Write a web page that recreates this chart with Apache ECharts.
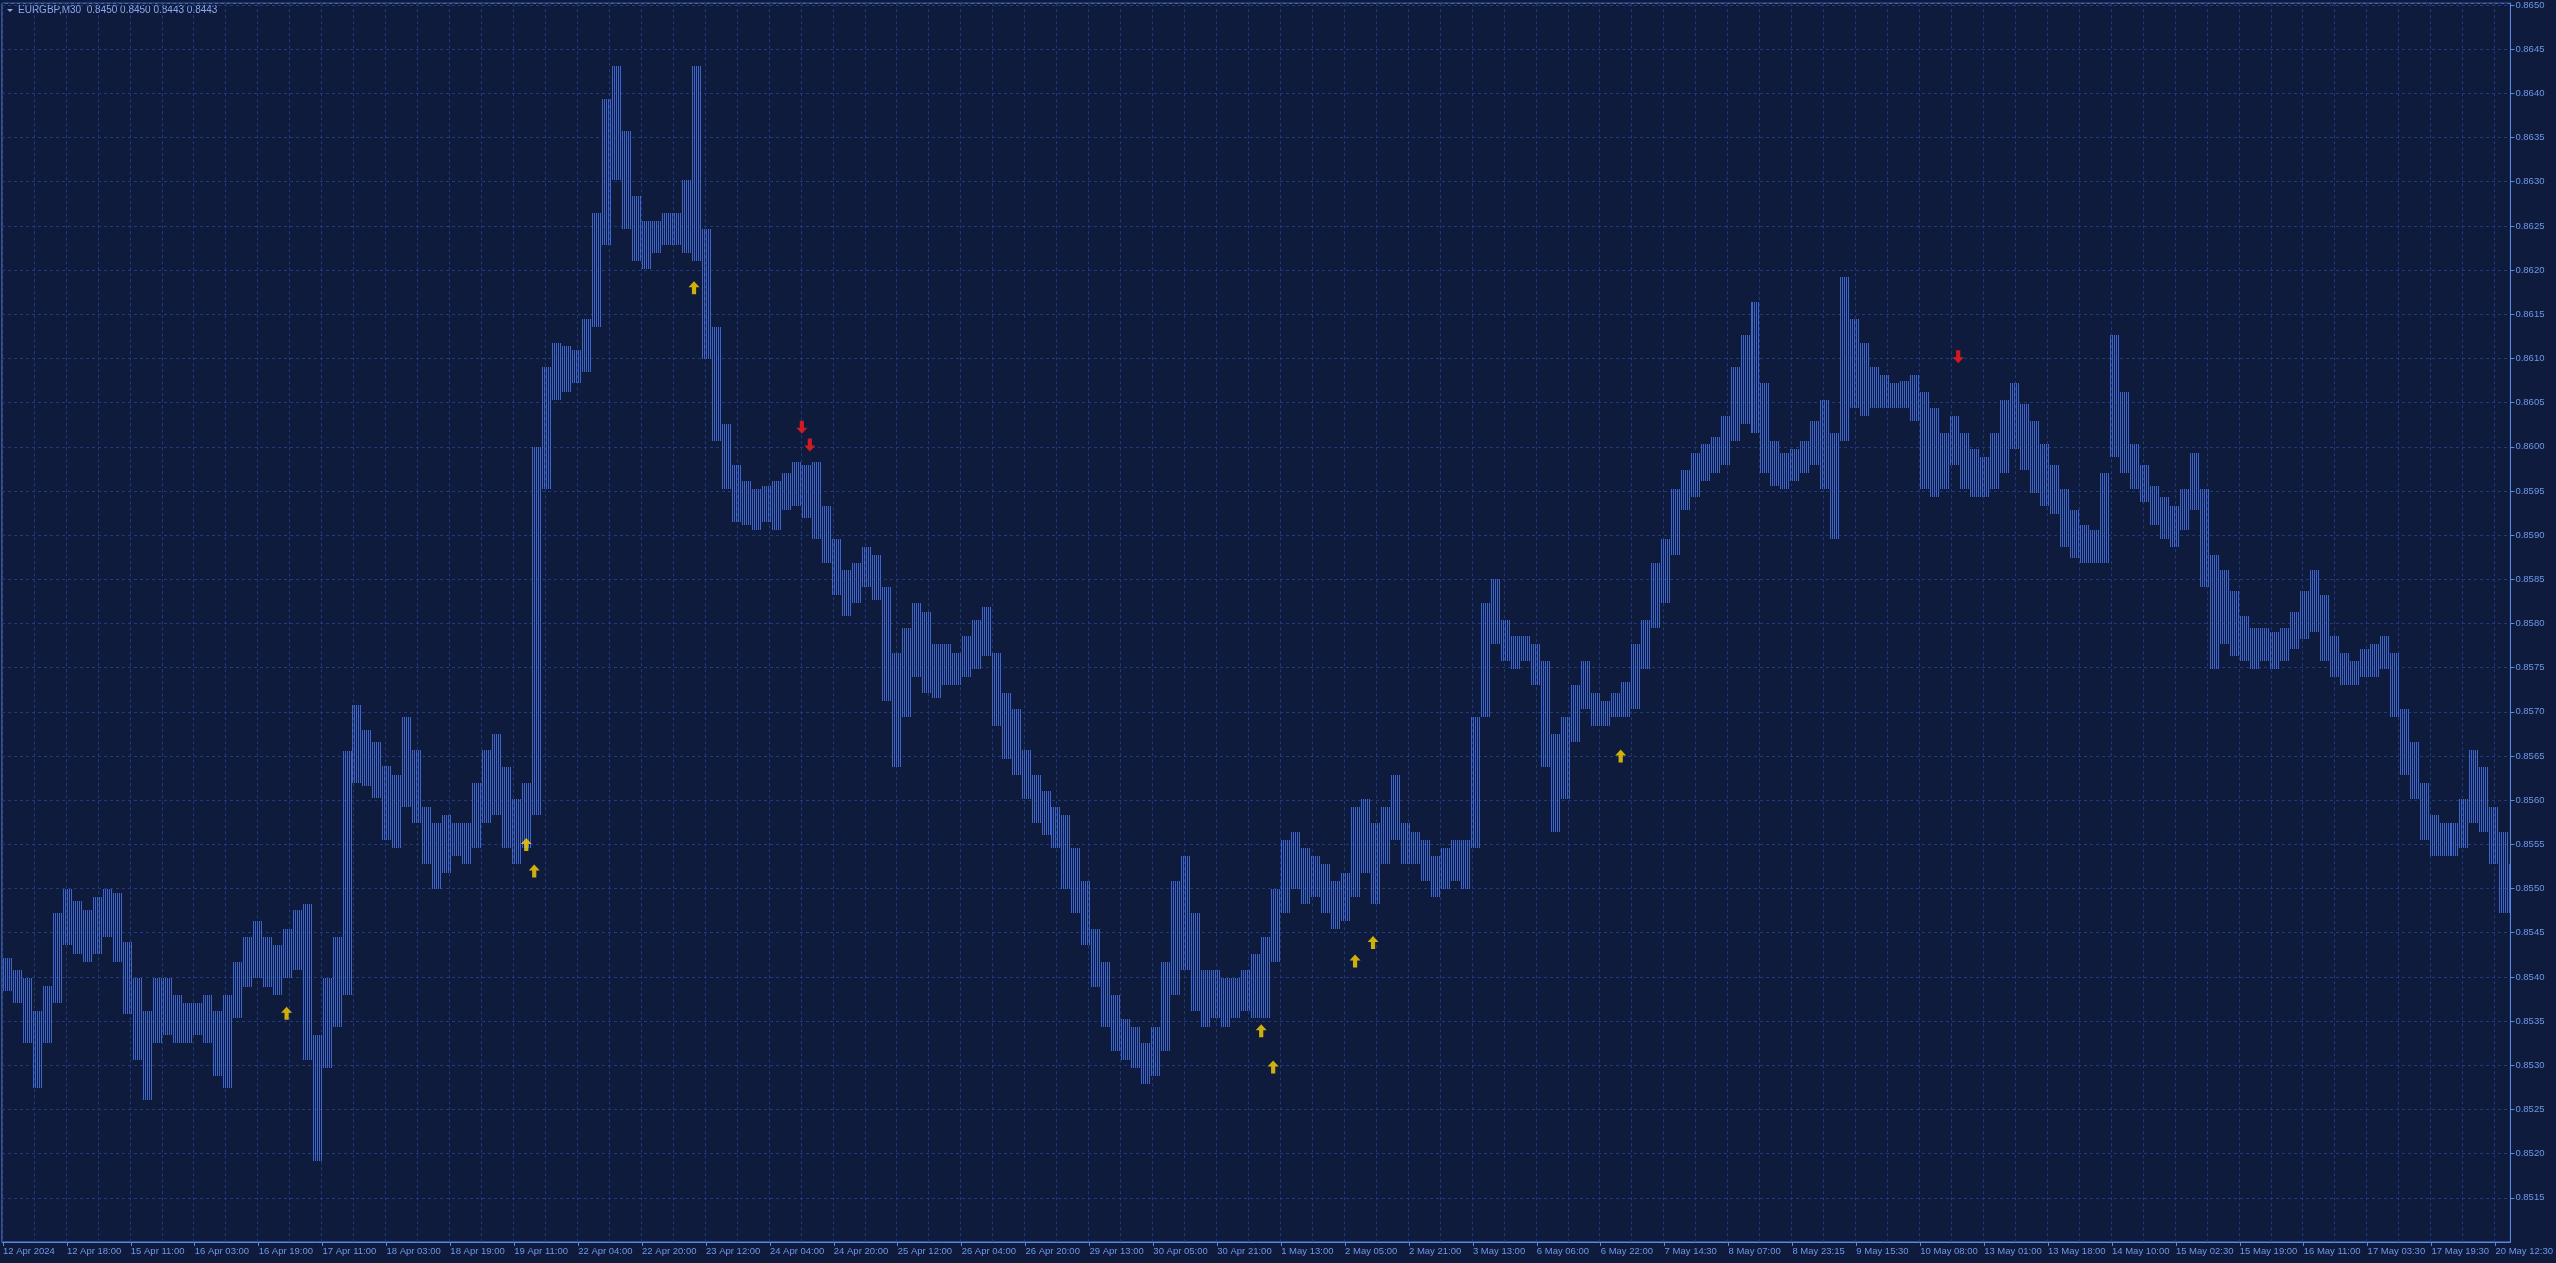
<!DOCTYPE html>
<html><head><meta charset="utf-8">
<script src="https://cdn.jsdelivr.net/npm/echarts@6/dist/echarts.min.js"></script>
<style>html,body{margin:0;padding:0;background:#0f1b3d;overflow:hidden}#c{width:2556px;height:1263px}</style>
</head><body><div id="c"></div>
<script>
const symbolName = 'EURGBP,M30';
const ohlcHeader = ['0.8450', '0.8450', '0.8443', '0.8443'];
const tickLabels = ['12 Apr 2024','12 Apr 18:00','15 Apr 11:00','16 Apr 03:00','16 Apr 19:00','17 Apr 11:00','18 Apr 03:00','18 Apr 19:00','19 Apr 11:00','22 Apr 04:00','22 Apr 20:00','23 Apr 12:00','24 Apr 04:00','24 Apr 20:00','25 Apr 12:00','26 Apr 04:00','26 Apr 20:00','29 Apr 13:00','30 Apr 05:00','30 Apr 21:00','1 May 13:00','2 May 05:00','2 May 21:00','3 May 13:00','6 May 06:00','6 May 22:00','7 May 14:30','8 May 07:00','8 May 23:15','9 May 15:30','10 May 08:00','13 May 01:00','13 May 18:00','14 May 10:00','15 May 02:30','15 May 19:00','16 May 11:00','17 May 03:30','17 May 19:30','20 May 12:30'];
const totalBars = 1256;
const barsPerChunk = 5;
// [low, high] of each run of 5 M30 bars
const seg1 = [[0.85384,0.85421],[0.85371,0.85408],[0.85325,0.85399],[0.85274,0.85362],[0.85325,0.85390],[0.85371,0.85472],[0.85436,0.85499],[0.85426,0.85486],[0.85417,0.85476],[0.85426,0.85491],[0.85445,0.85500],[0.85417,0.85495],[0.85358,0.85440],[0.85306,0.85399],[0.85261,0.85362],[0.85325,0.85399],[0.85334,0.85399],[0.85325,0.85380],[0.85325,0.85371],[0.85334,0.85371],[0.85325,0.85380],[0.85288,0.85362],[0.85274,0.85380],[0.85353,0.85417],[0.85389,0.85445],[0.85399,0.85463],[0.85389,0.85445],[0.85380,0.85436],[0.85399,0.85454],[0.85408,0.85476],[0.85306,0.85482],[0.85192,0.85334]];
const seg2 = [[0.85297,0.85399],[0.85343,0.85445],[0.85380,0.85656],[0.85620,0.85708],[0.85616,0.85679],[0.85602,0.85666],[0.85555,0.85639],[0.85546,0.85629],[0.85592,0.85694],[0.85574,0.85657],[0.85528,0.85592],[0.85500,0.85574],[0.85518,0.85583],[0.85537,0.85574],[0.85528,0.85574],[0.85546,0.85620],[0.85574,0.85657],[0.85583,0.85675],[0.85546,0.85638],[0.85528,0.85601],[0.85546,0.85620],[0.85583,0.86000],[0.85952,0.86090],[0.86053,0.86118],[0.86062,0.86114],[0.86072,0.86109],[0.86085,0.86145],[0.86136,0.86265],[0.86228,0.86394],[0.86302,0.86431],[0.86247,0.86357],[0.86210,0.86284]];
const seg3 = [[0.86201,0.86256],[0.86219,0.86256],[0.86228,0.86265],[0.86228,0.86265],[0.86219,0.86302],[0.86210,0.86431],[0.86099,0.86247],[0.86007,0.86136],[0.85952,0.86026],[0.85915,0.85979],[0.85911,0.85961],[0.85906,0.85952],[0.85915,0.85956],[0.85906,0.85961],[0.85929,0.85970],[0.85933,0.85983],[0.85919,0.85979],[0.85896,0.85983],[0.85869,0.85933],[0.85832,0.85896],[0.85808,0.85860],[0.85823,0.85869],[0.85841,0.85887],[0.85827,0.85878],[0.85712,0.85841],[0.85638,0.85767],[0.85694,0.85795],[0.85740,0.85823],[0.85721,0.85813],[0.85716,0.85777],[0.85730,0.85777],[0.85730,0.85767]];
const seg4 = [[0.85740,0.85786],[0.85749,0.85804],[0.85763,0.85819],[0.85684,0.85767],[0.85647,0.85721],[0.85629,0.85703],[0.85601,0.85657],[0.85574,0.85629],[0.85561,0.85610],[0.85546,0.85592],[0.85500,0.85583],[0.85472,0.85546],[0.85436,0.85509],[0.85389,0.85454],[0.85343,0.85417],[0.85316,0.85380],[0.85306,0.85352],[0.85297,0.85343],[0.85279,0.85325],[0.85288,0.85343],[0.85316,0.85417],[0.85380,0.85509],[0.85408,0.85537],[0.85362,0.85472],[0.85343,0.85408],[0.85353,0.85408],[0.85343,0.85399],[0.85353,0.85399],[0.85362,0.85408],[0.85353,0.85426],[0.85353,0.85445],[0.85417,0.85500]];
const seg5 = [[0.85472,0.85555],[0.85500,0.85564],[0.85482,0.85546],[0.85491,0.85537],[0.85472,0.85528],[0.85454,0.85509],[0.85463,0.85518],[0.85491,0.85592],[0.85518,0.85601],[0.85482,0.85574],[0.85528,0.85592],[0.85555,0.85629],[0.85528,0.85574],[0.85528,0.85564],[0.85509,0.85555],[0.85491,0.85537],[0.85500,0.85546],[0.85509,0.85555],[0.85500,0.85555],[0.85546,0.85694],[0.85694,0.85823],[0.85777,0.85850],[0.85758,0.85804],[0.85749,0.85786],[0.85758,0.85786],[0.85730,0.85777],[0.85638,0.85758],[0.85564,0.85675],[0.85601,0.85694],[0.85666,0.85730],[0.85703,0.85758],[0.85684,0.85721]];
const seg6 = [[0.85684,0.85712],[0.85694,0.85721],[0.85694,0.85734],[0.85703,0.85777],[0.85749,0.85804],[0.85795,0.85869],[0.85823,0.85896],[0.85878,0.85952],[0.85929,0.85974],[0.85943,0.85993],[0.85961,0.86003],[0.85970,0.86011],[0.85979,0.86035],[0.86007,0.86090],[0.86026,0.86127],[0.86016,0.86164],[0.85970,0.86072],[0.85956,0.86007],[0.85952,0.85993],[0.85961,0.85998],[0.85970,0.86007],[0.85979,0.86029],[0.85952,0.86053],[0.85896,0.86016],[0.86007,0.86192],[0.86044,0.86145],[0.86035,0.86118],[0.86044,0.86090],[0.86044,0.86081],[0.86044,0.86072],[0.86044,0.86075],[0.86029,0.86081]];
const seg7 = [[0.85952,0.86062],[0.85943,0.86044],[0.85952,0.86016],[0.85979,0.86035],[0.85952,0.86016],[0.85943,0.85998],[0.85943,0.85989],[0.85952,0.86016],[0.85970,0.86053],[0.85998,0.86072],[0.85974,0.86048],[0.85948,0.86029],[0.85933,0.86003],[0.85924,0.85979],[0.85887,0.85952],[0.85874,0.85929],[0.85869,0.85911],[0.85869,0.85906],[0.85869,0.85970],[0.85989,0.86127],[0.85970,0.86062],[0.85952,0.86003],[0.85937,0.85979],[0.85911,0.85956],[0.85896,0.85943],[0.85887,0.85933],[0.85906,0.85952],[0.85929,0.85993],[0.85841,0.85952],[0.85749,0.85878],[0.85777,0.85860],[0.85763,0.85837]];
const seg8 = [[0.85758,0.85808],[0.85749,0.85795],[0.85758,0.85795],[0.85749,0.85790],[0.85758,0.85795],[0.85771,0.85813],[0.85782,0.85837],[0.85790,0.85860],[0.85758,0.85832],[0.85740,0.85786],[0.85730,0.85767],[0.85730,0.85758],[0.85740,0.85771],[0.85740,0.85777],[0.85749,0.85786],[0.85694,0.85767],[0.85629,0.85703],[0.85601,0.85666],[0.85555,0.85620],[0.85537,0.85583],[0.85537,0.85574],[0.85537,0.85574],[0.85546,0.85601],[0.85574,0.85657],[0.85564,0.85638],[0.85528,0.85592],[0.85472,0.85564],[0.85472,0.85528]];
// signal arrows: [bar index, price]
const buyArrows = [[142,0.85359],[262,0.8555],[266,0.8552],[346,0.8618],[630,0.85339],[636,0.85298],[677,0.85418],[686,0.85439],[810,0.8565]];
const sellArrows = [[400,0.86022],[404,0.86002],[979,0.86102]];

const chunks = [].concat(seg1, seg2, seg3, seg4, seg5, seg6, seg7, seg8);
const barData = chunks.map((c, i) => [i * barsPerChunk, c[0], c[1]]);
const categories = Array.from({length: totalBars}, (_, i) => String(i));

const BG = '#0f1b3d', GRIDC = '#1f3b7c', AXC = '#5b87e0', TXT = '#6f97e8', BAR = '#3e65cb';
const FONT = 'Liberation Sans';
const upPath = 'path://M5.5 0 L11 6 L7.6 6 L7.6 13 L3.4 13 L3.4 6 L0 6 Z';
const downPath = 'path://M3.4 0 L7.6 0 L7.6 7 L11 7 L5.5 13 L0 7 L3.4 7 Z';

const chart = echarts.init(document.getElementById('c'), null, {renderer: 'canvas'});
chart.setOption({
  backgroundColor: BG,
  animation: false,
  grid: {left: 2, right: 41, top: 3, bottom: 21, show: true, borderColor: AXC, borderWidth: 1, backgroundColor: 'transparent'},
  xAxis: {
    type: 'category', data: categories, boundaryGap: true,
    axisLine: {lineStyle: {color: AXC, width: 1}},
    axisTick: {show: true, interval: 31, alignWithLabel: true, length: 4, lineStyle: {color: AXC}},
    axisLabel: {interval: 31, color: TXT, fontFamily: FONT, fontSize: 9.5, align: 'left', margin: 4,
      formatter: (v, idx) => tickLabels[Math.round(idx / 32)] || ''},
    splitLine: {show: true, interval: 15, lineStyle: {color: GRIDC, type: [3, 3], width: 1}}
  },
  yAxis: {
    type: 'value', position: 'right', min: 0.8510, max: 0.86502, interval: 0.0005, scale: true,
    axisLine: {show: true, lineStyle: {color: AXC, width: 1}},
    axisTick: {show: true, length: 4, lineStyle: {color: AXC}},
    axisLabel: {color: TXT, fontFamily: FONT, fontSize: 9.5, margin: 5, showMinLabel: false, showMaxLabel: false,
      formatter: v => v.toFixed(4)},
    splitLine: {show: true, lineStyle: {color: GRIDC, type: [3, 3], width: 1}}
  },
  graphic: [
    {type: 'polygon', left: 7, top: 9, shape: {points: [[0, 0], [6, 0], [3, 3]]}, style: {fill: '#8aaaf0'}},
    {type: 'text', left: 18, top: 5, style: {text: symbolName + '  ' + ohlcHeader.join(' '), fill: '#8aaaf0', font: '10px "Liberation Sans"'}}
  ],
  series: [
    {
      type: 'custom', clip: true, data: barData,
      renderItem: (params, api) => {
        const start = api.value(0), lo = api.value(1), hi = api.value(2);
        const children = [];
        for (let k = 0; k < barsPerChunk; k++) {
          if (start + k >= totalBars) break;
          const pt = api.coord([start + k, hi]);
          const pb = api.coord([start + k, lo]);
          const x = Math.round(pt[0]) + 0.5;
          let y1 = Math.round(pt[1]), y2 = Math.round(pb[1]);
          if (y2 - y1 < 1) y2 = y1 + 1;
          children.push({type: 'line', shape: {x1: x, y1: y1, x2: x, y2: y2}, style: {stroke: BAR, lineWidth: 1}});
        }
        return {type: 'group', children};
      }
    },
    {type: 'scatter', data: buyArrows, symbol: upPath, symbolSize: [11, 13], itemStyle: {color: '#ffd500'}, z: 5},
    {type: 'scatter', data: sellArrows, symbol: downPath, symbolSize: [11, 13], itemStyle: {color: '#ff1a1a'}, z: 5}
  ]
});
</script></body></html>
